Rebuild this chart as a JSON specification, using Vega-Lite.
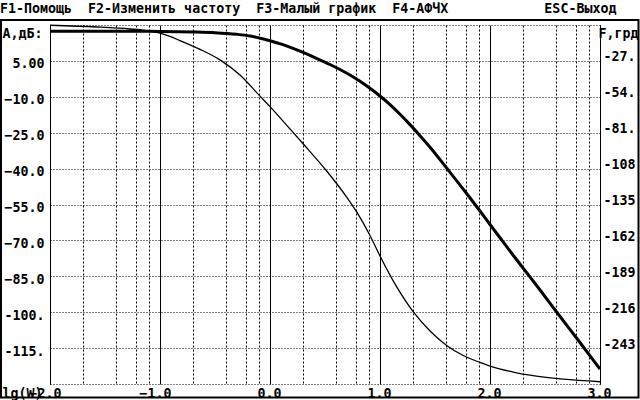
{
  "$schema": "https://vega.github.io/schema/vega-lite/v6.json",
  "width": 550,
  "height": 359,
  "autosize": {"type": "none"},
  "padding": {"left": 50, "top": 25, "right": 40, "bottom": 16},
  "background": "white",
  "config": {
    "view": {"stroke": null},
    "font": "DejaVu Sans Mono",
    "axis": {
      "labelFont": "DejaVu Sans Mono",
      "labelFontSize": 13.3,
      "labelFontWeight": "bold",
      "labelColor": "black",
      "titleFont": "DejaVu Sans Mono",
      "titleFontSize": 13.3,
      "titleFontWeight": "bold",
      "titleColor": "black",
      "ticks": false,
      "labelOverlap": false,
      "labelFlush": false
    }
  },
  "title": {
    "text": "F1-Помощь\u00a0\u00a0F2-Изменить\u00a0частоту\u00a0\u00a0F3-Малый\u00a0график\u00a0\u00a0F4-АФЧХ\u00a0\u00a0\u00a0\u00a0\u00a0\u00a0\u00a0\u00a0\u00a0\u00a0\u00a0\u00a0ESC-Выход",
    "anchor": "start",
    "frame": "group",
    "dx": -50,
    "dy": 13,
    "offset": 6,
    "font": "DejaVu Sans Mono",
    "fontSize": 13.3,
    "fontWeight": "bold",
    "color": "black",
    "baseline": "alphabetic"
  },
  "datasets": {
    "amp": [
      {"lg": -2.0, "db": 17.4},
      {"lg": -1.5, "db": 17.4},
      {"lg": -1.0, "db": 17.3},
      {"lg": -0.7, "db": 17.1},
      {"lg": -0.5, "db": 16.8},
      {"lg": -0.3, "db": 16.1},
      {"lg": -0.182, "db": 15.4},
      {"lg": 0.0, "db": 13.44},
      {"lg": 0.118, "db": 11.77},
      {"lg": 0.273, "db": 9.05},
      {"lg": 0.427, "db": 6.0},
      {"lg": 0.545, "db": 3.5},
      {"lg": 0.636, "db": 1.41},
      {"lg": 0.727, "db": -0.89},
      {"lg": 0.818, "db": -3.52},
      {"lg": 0.909, "db": -6.45},
      {"lg": 1.0, "db": -9.67},
      {"lg": 1.091, "db": -13.26},
      {"lg": 1.182, "db": -17.27},
      {"lg": 1.273, "db": -21.62},
      {"lg": 1.364, "db": -26.25},
      {"lg": 1.455, "db": -31.06},
      {"lg": 1.609, "db": -39.96},
      {"lg": 1.791, "db": -50.61},
      {"lg": 1.909, "db": -57.72},
      {"lg": 2.0, "db": -63.36},
      {"lg": 2.209, "db": -76.1},
      {"lg": 2.3, "db": -81.53},
      {"lg": 2.455, "db": -90.73},
      {"lg": 2.609, "db": -100.13},
      {"lg": 2.818, "db": -112.66},
      {"lg": 3.0, "db": -123.74}
    ],
    "phase": [
      {"lg": -2.0, "deg": -0.2},
      {"lg": -1.573, "deg": -1.5},
      {"lg": -1.273, "deg": -3.0},
      {"lg": -1.136, "deg": -4.1},
      {"lg": -1.0, "deg": -6.2},
      {"lg": -0.909, "deg": -8.6},
      {"lg": -0.818, "deg": -11.7},
      {"lg": -0.636, "deg": -18.3},
      {"lg": -0.455, "deg": -26.2},
      {"lg": -0.273, "deg": -37.6},
      {"lg": -0.091, "deg": -53.5},
      {"lg": 0.0, "deg": -61.4},
      {"lg": 0.182, "deg": -78.2},
      {"lg": 0.303, "deg": -89.5},
      {"lg": 0.515, "deg": -109.8},
      {"lg": 0.697, "deg": -129.4},
      {"lg": 0.788, "deg": -140.6},
      {"lg": 0.909, "deg": -158.3},
      {"lg": 1.0, "deg": -173.7},
      {"lg": 1.152, "deg": -197.0},
      {"lg": 1.303, "deg": -215.8},
      {"lg": 1.455, "deg": -230.1},
      {"lg": 1.606, "deg": -241.0},
      {"lg": 1.757, "deg": -248.6},
      {"lg": 1.909, "deg": -253.8},
      {"lg": 2.0, "deg": -256.5},
      {"lg": 2.212, "deg": -261.0},
      {"lg": 2.364, "deg": -263.4},
      {"lg": 2.666, "deg": -266.4},
      {"lg": 3.0, "deg": -268.3}
    ]
  },
  "layer": [
    {
      "data": {"values": [{}]},
      "mark": {"type": "rect", "filled": false, "stroke": "black", "strokeWidth": 2},
      "encoding": {
        "x": {"datum": -2.4455, "type": "quantitative", "scale": {"domain": [-2, 3], "nice": false, "zero": false}, "axis": null},
        "x2": {"datum": 3.35},
        "y": {"datum": 22.09, "type": "quantitative", "scale": {"domain": [-130, 20], "nice": false, "zero": false}, "axis": null},
        "y2": {"datum": -135.64}
      }
    },
    {
      "data": {"name": "amp"},
      "mark": {"type": "line", "color": "black", "strokeWidth": 3, "interpolate": "monotone"},
      "encoding": {
        "x": {
          "field": "lg", "type": "quantitative",
          "scale": {"domain": [-2, 3], "nice": false, "zero": false},
          "axis": {
            "orient": "bottom",
            "values": [-2, -1, 0, 1, 2, 3],
            "grid": true, "gridColor": "black", "gridWidth": 1, "gridOpacity": 1,
            "domain": false,
            "labelExpr": "format(datum.value, '.1f')",
            "labelAlign": "right",
            "labelOffset": 11,
            "labelPadding": 2,
            "labelBaseline": "top",
            "title": "lg(W)",
            "titleX": -48,
            "titleY": 2,
            "titleAlign": "left",
            "titleBaseline": "top",
            "titleAngle": 0
          }
        },
        "y": {
          "field": "db", "type": "quantitative",
          "scale": {"domain": [-130, 20], "nice": false, "zero": false},
          "axis": {
            "orient": "left",
            "values": [20, 5, -10, -25, -40, -55, -70, -85, -100, -115, -130],
            "grid": true, "gridColor": "black", "gridWidth": 1, "gridOpacity": 1, "gridDash": [1, 2],
            "domain": true, "domainColor": "black", "domainWidth": 1,
            "labelExpr": "datum.value == 20 || datum.value == -130 ? '' : datum.value == 5 ? '5.00' : datum.value <= -100 ? datum.value + '.' : format(datum.value, '.1f')",
            "labelPadding": 6,
            "labelBaseline": "middle",
            "labelOffset": 3,
            "title": "A,дБ:",
            "titleAngle": 0,
            "titleX": -48,
            "titleY": 12,
            "titleAlign": "left",
            "titleBaseline": "alphabetic"
          }
        }
      }
    },
    {
      "data": {"name": "phase"},
      "mark": {"type": "line", "color": "black", "strokeWidth": 1.3, "interpolate": "monotone"},
      "encoding": {
        "x": {
          "field": "lg", "type": "quantitative",
          "scale": {"domain": [-2, 3], "nice": false, "zero": false},
          "axis": {
            "orient": "bottom",
            "values": [-1.69897, -1.39794, -1.22185, -1.09691, -0.69897, -0.39794, -0.22185, -0.09691, 0.30103, 0.60206, 0.77815, 0.90309, 1.30103, 1.60206, 1.77815, 1.90309, 2.30103, 2.60206, 2.77815, 2.90309],
            "grid": true, "gridColor": "black", "gridWidth": 1, "gridOpacity": 1, "gridDash": [2, 2],
            "domain": false,
            "labels": false,
            "title": null
          }
        },
        "y": {
          "field": "deg", "type": "quantitative",
          "scale": {"domain": [-270, 0], "nice": false, "zero": false},
          "axis": {
            "orient": "right",
            "values": [-27, -54, -81, -108, -135, -162, -189, -216, -243],
            "grid": false,
            "domain": true, "domainColor": "black", "domainWidth": 1,
            "labelExpr": "datum.value > -100 ? datum.value + '.' : '' + datum.value",
            "labelPadding": 3,
            "labelBaseline": "alphabetic",
            "labelOffset": 0,
            "title": "F,грд",
            "titleAngle": 0,
            "titleX": -2,
            "titleY": 12,
            "titleAlign": "left",
            "titleBaseline": "alphabetic"
          }
        }
      }
    }
  ],
  "resolve": {"scale": {"y": "independent"}, "axis": {"x": "independent", "y": "independent"}}
}
